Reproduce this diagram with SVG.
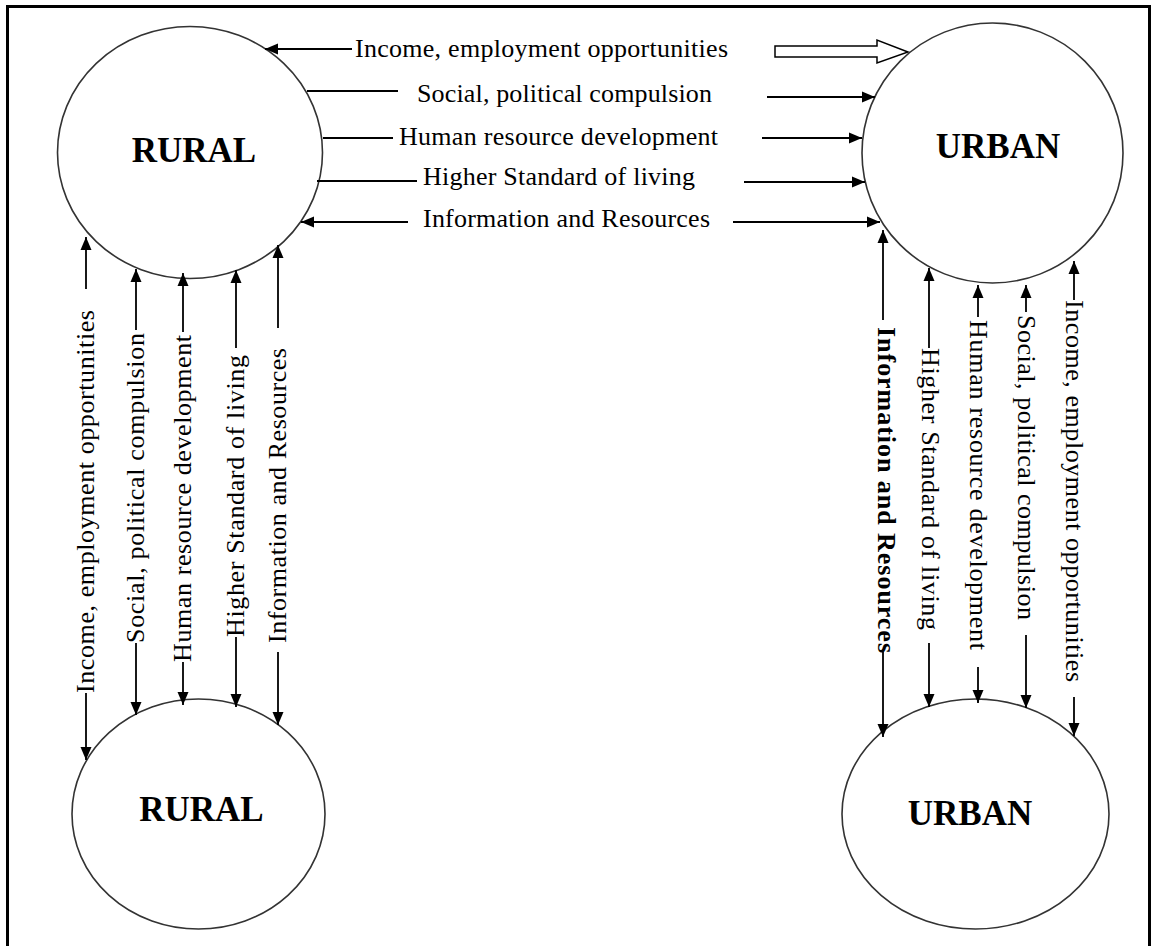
<svg xmlns="http://www.w3.org/2000/svg" width="1156" height="946" viewBox="0 0 1156 946">
<style>
.node{fill:#fff;stroke:#333;stroke-width:1.6}
.title{font-family:"Liberation Serif","Times New Roman",serif;font-weight:bold;font-size:35px;fill:#000;text-anchor:middle}
.c{stroke:#000;stroke-width:1.8;fill:none}
.a{marker-end:url(#ah)}
.lbl{font-family:"Liberation Serif","Times New Roman",serif;font-size:26px;fill:#000}
.v{text-anchor:middle}
.b{font-weight:bold}
</style>
<defs>
<marker id="ah" markerUnits="userSpaceOnUse" markerWidth="14" markerHeight="12" refX="13" refY="6" orient="auto" viewBox="0 0 14 12">
<path d="M0,0.5 L13,6 L0,11.5 z" fill="#000"/>
</marker>
</defs>
<rect x="7.5" y="6.5" width="1142" height="960" fill="#fff" stroke="#000" stroke-width="3"/>

<g id="rural-top">
<ellipse class="node" cx="190" cy="152.5" rx="132.5" ry="126"/>
<text class="title" x="194" y="162">RURAL</text>
</g>
<g id="urban-top">
<ellipse class="node" cx="992.5" cy="153" rx="130.5" ry="130"/>
<text class="title" x="998" y="158">URBAN</text>
</g>
<g id="rural-bottom">
<ellipse class="node" cx="198.5" cy="814" rx="126.5" ry="115"/>
<text class="title" x="201.5" y="821">RURAL</text>
</g>
<g id="urban-bottom">
<ellipse class="node" cx="975.5" cy="814" rx="133.5" ry="115"/>
<text class="title" x="970" y="825">URBAN</text>
</g>

<g id="connectors">
<!-- horizontal: rural-top <-> urban-top -->
<line class="c a" x1="352" y1="49" x2="265" y2="49"/>
<polygon points="775,46 877,46 877,40 908,52 877,63 877,57 775,57" fill="#fff" stroke="#000" stroke-width="1.5"/>
<line class="c" x1="307" y1="91" x2="398" y2="91"/>
<line class="c a" x1="767" y1="97" x2="875" y2="97"/>
<line class="c" x1="323" y1="138" x2="393" y2="138"/>
<line class="c a" x1="762" y1="138" x2="862" y2="138"/>
<line class="c" x1="317" y1="181" x2="417" y2="181"/>
<line class="c a" x1="744" y1="182" x2="865" y2="182"/>
<line class="c a" x1="408" y1="222" x2="301" y2="222"/>
<line class="c a" x1="733" y1="222" x2="880" y2="222"/>

<!-- vertical: rural-top <-> rural-bottom -->
<line class="c a" x1="86" y1="289" x2="86" y2="237"/>
<line class="c a" x1="86" y1="693" x2="86" y2="760"/>
<line class="c a" x1="136" y1="330" x2="136" y2="269"/>
<line class="c a" x1="136" y1="643" x2="136" y2="715"/>
<line class="c a" x1="183" y1="332" x2="183" y2="273"/>
<line class="c a" x1="183" y1="662" x2="183" y2="705"/>
<line class="c a" x1="236" y1="348" x2="236" y2="270"/>
<line class="c a" x1="236" y1="637" x2="236" y2="707"/>
<line class="c a" x1="278" y1="328" x2="278" y2="245"/>
<line class="c a" x1="278" y1="652" x2="278" y2="725"/>

<!-- vertical: urban-top <-> urban-bottom -->
<line class="c a" x1="883" y1="320" x2="883" y2="230"/>
<line class="c a" x1="883" y1="652" x2="883" y2="737"/>
<line class="c a" x1="929" y1="348" x2="929" y2="268"/>
<line class="c a" x1="929" y1="643" x2="929" y2="707"/>
<line class="c a" x1="978" y1="317" x2="978" y2="285"/>
<line class="c a" x1="978" y1="667" x2="978" y2="703"/>
<line class="c a" x1="1026" y1="312" x2="1026" y2="285"/>
<line class="c a" x1="1026" y1="635" x2="1026" y2="708"/>
<line class="c a" x1="1074" y1="300" x2="1074" y2="261"/>
<line class="c a" x1="1074" y1="697" x2="1074" y2="736"/>
</g>

<g id="labels">
<text class="lbl" x="355" y="57" textLength="373" lengthAdjust="spacing">Income, employment opportunities</text>
<text class="lbl" x="417" y="102" textLength="295" lengthAdjust="spacing">Social, political compulsion</text>
<text class="lbl" x="399" y="145" textLength="319" lengthAdjust="spacing">Human resource development</text>
<text class="lbl" x="423" y="185" textLength="272" lengthAdjust="spacing">Higher Standard of living</text>
<text class="lbl" x="423" y="227" textLength="287" lengthAdjust="spacing">Information and Resources</text>

<text class="lbl v" transform="translate(86,501.5) rotate(-90)" dy="0.3em" textLength="383" lengthAdjust="spacing">Income, employment opportunities</text>
<text class="lbl v" transform="translate(136,488) rotate(-90)" dy="0.3em" textLength="310" lengthAdjust="spacing">Social, political compulsion</text>
<text class="lbl v" transform="translate(183,498.5) rotate(-90)" dy="0.3em" textLength="327" lengthAdjust="spacing">Human resource development</text>
<text class="lbl v" transform="translate(236,496) rotate(-90)" dy="0.3em" textLength="282" lengthAdjust="spacing">Higher Standard of living</text>
<text class="lbl v" transform="translate(278,495.5) rotate(-90)" dy="0.3em" textLength="295" lengthAdjust="spacing">Information and Resources</text>

<text class="lbl v b" transform="translate(886,490) rotate(90)" dy="0.3em" textLength="326" lengthAdjust="spacing">Information and Resources</text>
<text class="lbl v" transform="translate(930,489) rotate(90)" dy="0.3em" textLength="282" lengthAdjust="spacing">Higher Standard of living</text>
<text class="lbl v" transform="translate(978,485) rotate(90)" dy="0.3em" textLength="330" lengthAdjust="spacing">Human resource development</text>
<text class="lbl v" transform="translate(1026,467.5) rotate(90)" dy="0.3em" textLength="305" lengthAdjust="spacing">Social, political compulsion</text>
<text class="lbl v" transform="translate(1074,491) rotate(90)" dy="0.3em" textLength="382" lengthAdjust="spacing">Income, employment opportunities</text>
</g>
</svg>
